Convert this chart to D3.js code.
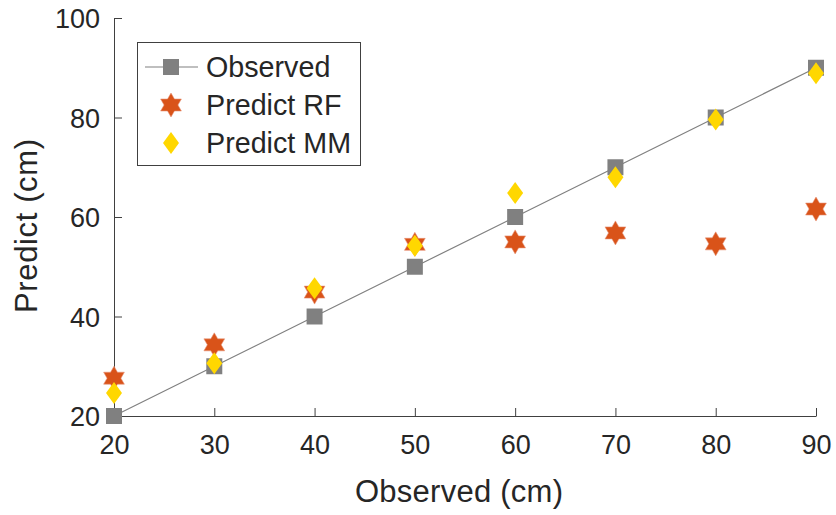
<!DOCTYPE html>
<html><head><meta charset="utf-8">
<script src="https://cdn.jsdelivr.net/npm/d3@7"></script>
<style>body{margin:0;background:#fff;} svg{display:block;font-family:"Liberation Sans",Arial,sans-serif;}</style>
</head><body>
<svg id="c" width="836" height="515"></svg>
<script>
const observed = [20, 30, 40, 50, 60, 70, 80, 90];
const observedY = [20, 30, 40, 50, 60, 70, 80, 90];
const predictRF = [27.6, 34.3, 44.9, 54.5, 55.0, 56.8, 54.6, 61.6];
const predictMM = [24.6, 30.6, 45.7, 54.2, 64.8, 68.0, 79.6, 88.9];
const xTicks = [20, 30, 40, 50, 60, 70, 80, 90];
const yTicks = [20, 40, 60, 80, 100];
const legendLabels = ["Observed", "Predict RF", "Predict MM"];

const svg = d3.select("#c");
const x = d3.scaleLinear().domain([20, 90]).range([114, 816]);
const y = d3.scaleLinear().domain([20, 100]).range([416, 18]);
const axisCol = "#404040", textCol = "#262626";
const cGray = "#808080", cRF = "#D95319", cMM = "#FFD700";

// axes
const gx = svg.append("g").attr("transform", `translate(0,${y(20)})`)
  .call(d3.axisBottom(x).tickValues(xTicks).tickSizeInner(-8).tickSizeOuter(0).tickPadding(19));
const gy = svg.append("g").attr("transform", `translate(${x(20)},0)`)
  .call(d3.axisLeft(y).tickValues(yTicks).tickSizeInner(-8).tickSizeOuter(0).tickPadding(14));
[gx, gy].forEach(g => {
  g.select(".domain").attr("stroke", axisCol).attr("stroke-width", 1);
  g.selectAll(".tick line").attr("stroke", axisCol);
  g.selectAll(".tick text").attr("fill", textCol).style("font-size", "27px")
    .style("font-family", '"Liberation Sans",Arial,sans-serif');
});
gx.selectAll(".tick text").attr("dy", "0.71em");
gy.selectAll(".tick text").attr("dy", "0.36em");

svg.append("text").attr("x", 459).attr("y", 502).attr("text-anchor", "middle")
  .attr("fill", textCol).style("font-size", "31px")
  .attr("textLength", 208).attr("lengthAdjust", "spacing").text("Observed (cm)");
svg.append("text").attr("transform", "translate(37,226) rotate(-90)").attr("text-anchor", "middle")
  .attr("fill", textCol).style("font-size", "31px")
  .attr("textLength", 174).attr("lengthAdjust", "spacing").text("Predict (cm)");

function hexagram(r) {
  const pts = [];
  const ri = r / Math.sqrt(3);
  for (let i = 0; i < 12; i++) {
    const a = -Math.PI / 2 + i * Math.PI / 6;
    const rr = i % 2 === 0 ? r : ri;
    pts.push([rr * Math.cos(a), rr * Math.sin(a)]);
  }
  return "M" + pts.map(p => p.join(",")).join("L") + "Z";
}
function diamond(w, h) {
  return `M0,${-h/2}L${w/2},0L0,${h/2}L${-w/2},0Z`;
}
const squarePath = "M-8,-8H8V8H-8Z";

// observed line
const pts = observed.map((d, i) => [d, observedY[i]]);
svg.append("path").datum(pts)
  .attr("d", d3.line().x(d => x(d[0])).y(d => y(d[1])))
  .attr("fill", "none").attr("stroke", cGray).attr("stroke-width", 1.2);
svg.selectAll(".sq").data(pts).join("path")
  .attr("d", squarePath).attr("transform", d => `translate(${x(d[0])},${y(d[1])})`)
  .attr("fill", cGray);
svg.selectAll(".rf").data(observed.map((d, i) => [d, predictRF[i]])).join("path")
  .attr("d", hexagram(12)).attr("transform", d => `translate(${x(d[0])},${y(d[1])})`)
  .attr("fill", cRF).attr("stroke", "#e8957a").attr("stroke-width", 0.6);
svg.selectAll(".mm").data(observed.map((d, i) => [d, predictMM[i]])).join("path")
  .attr("d", diamond(16, 22)).attr("transform", d => `translate(${x(d[0])},${y(d[1])})`)
  .attr("fill", cMM);

// legend
const lg = svg.append("g");
lg.append("rect").attr("x", 137.5).attr("y", 42.5).attr("width", 223).attr("height", 123)
  .attr("fill", "#fff").attr("stroke", axisCol).attr("stroke-width", 1);
const rowY = [67, 105, 143];
lg.append("line").attr("x1", 145).attr("x2", 198).attr("y1", rowY[0]).attr("y2", rowY[0])
  .attr("stroke", cGray).attr("stroke-width", 1.2);
lg.append("path").attr("d", squarePath).attr("transform", `translate(171,${rowY[0]})`).attr("fill", cGray);
lg.append("path").attr("d", hexagram(12)).attr("transform", `translate(171,${rowY[1]})`)
  .attr("fill", cRF).attr("stroke", "#e8957a").attr("stroke-width", 0.6);
lg.append("path").attr("d", diamond(16, 22)).attr("transform", `translate(171,${rowY[2]})`).attr("fill", cMM);
lg.selectAll(".lt").data(legendLabels).join("text")
  .attr("x", 206).attr("y", (d, i) => rowY[i]).attr("dy", "0.36em")
  .attr("fill", textCol).style("font-size", "28.7px").text(d => d);
</script>
</body></html>
